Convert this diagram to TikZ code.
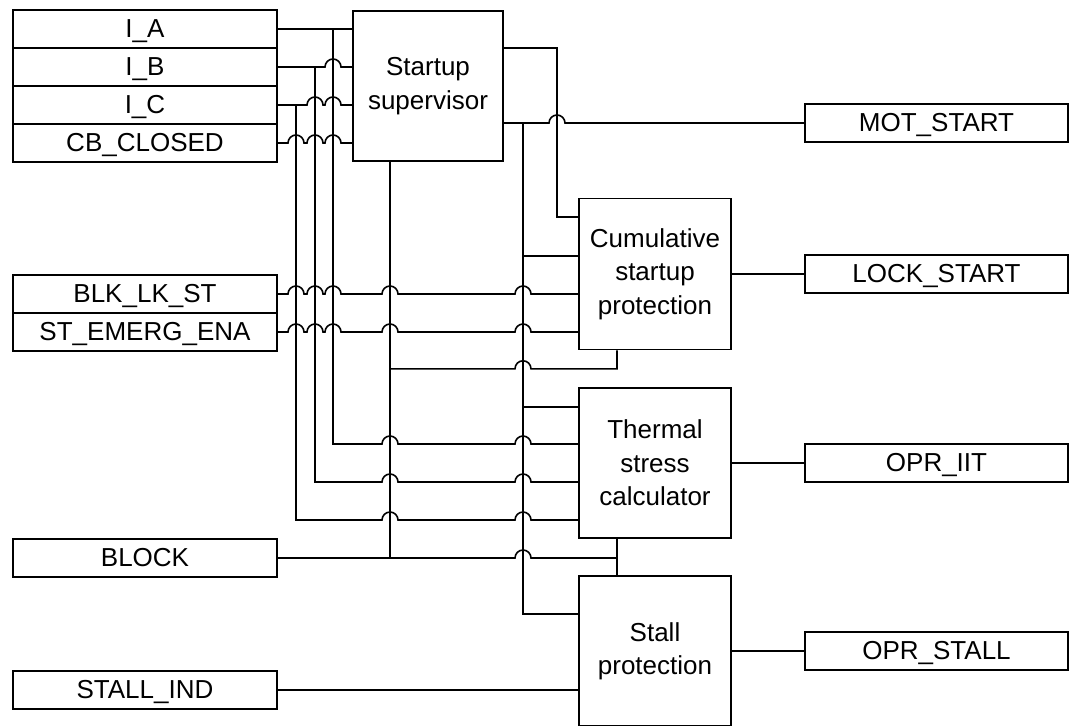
\documentclass[tikz,border=0pt]{standalone}
\usepackage{fontspec}
\setmainfont{Liberation Sans}
\usetikzlibrary{calc}
\newcommand{\hoprad}{0.16}
% a half-circle jump over a crossing wire
\newcommand{\hop}[1]{-- ($#1+(-\hoprad,0)$) arc[start angle=180, end angle=0, radius=\hoprad]}

\begin{document}
\begin{tikzpicture}[
  every node/.style={font=\fontsize{14.8}{19}\selectfont},
  sigbox/.style={draw, line width=0.9pt, inner sep=0pt,
    minimum width=5.27cm, minimum height=0.76cm,
    text height=10.6pt, text depth=0.8pt},
  fblock/.style={draw, line width=0.9pt, align=center, inner sep=0pt,
    minimum width=3.04cm, minimum height=3.0cm},
  wire/.style={line width=0.9pt},
]
\useasboundingbox (0,0) rectangle (21.38,-14.52);

% ── INPUTS ── (left column)
\node[sigbox] at ( 2.9, -0.58) (inA)   {I\_A};
\node[sigbox] at ( 2.9, -1.34) (inB)   {I\_B};
\node[sigbox] at ( 2.9, -2.10) (inC)   {I\_C};
\node[sigbox] at ( 2.9, -2.86) (cbc)   {CB\_CLOSED};
\node[sigbox] at ( 2.9, -5.88) (blk)   {BLK\_LK\_ST};
\node[sigbox] at ( 2.9, -6.64) (emg)   {ST\_EMERG\_ENA};
\node[sigbox] at ( 2.9,-11.16) (block) {BLOCK};
\node[sigbox] at ( 2.9,-13.80) (sind)  {STALL\_IND};

% ── FUNCTION BLOCKS ──
\node[fblock, minimum width=3.0cm] at ( 8.56, -1.72) (sup) {Startup\\supervisor};
\node[fblock, minimum height=3.02cm] at (13.1, -5.48) (cum) {Cumulative\\startup\\protection};
\node[fblock] at (13.1, -9.26) (ts)    {Thermal\\stress\\calculator};
\node[fblock] at (13.1,-13.02) (stall) {Stall\\protection};

% ── OUTPUTS ── (right column)
\node[sigbox] at (18.73, -2.46) (mot)    {MOT\_START};
\node[sigbox] at (18.73, -5.48) (lock)   {LOCK\_START};
\node[sigbox] at (18.73, -9.26) (iit)    {OPR\_IIT};
\node[sigbox] at (18.73,-13.02) (ostall) {OPR\_STALL};

% bus columns and taps
\coordinate (busC)   at (5.92,0);
\coordinate (busB)   at (6.30,0);
\coordinate (busA)   at (6.66,0);
\coordinate (bus2)   at (10.46,0);
\coordinate (bus1)   at (11.14,0);
\coordinate (blkbus) at ([xshift=-0.76cm]sup.south);
\coordinate (supo1)  at ([yshift=0.76cm]sup.east);
\coordinate (cumS)   at ([yshift=1.14cm]cum.west);
\coordinate (cumT)   at ([yshift=0.36cm]cum.west);
\coordinate (cumbot) at ([xshift=-0.76cm]cum.south);
\coordinate (blkcum) at ([yshift=-0.37cm]cumbot);
\coordinate (tsS)    at ([yshift=1.12cm]ts.west);
\coordinate (tsA)    at ([yshift=0.38cm]ts.west);
\coordinate (tsB)    at ([yshift=-0.38cm]ts.west);
\coordinate (tsC)    at ([yshift=-1.14cm]ts.west);
\coordinate (tsbot)  at ([xshift=-0.76cm]ts.south);
\coordinate (stS)    at ([yshift=0.74cm]stall.west);

% inputs → Startup supervisor
\draw[wire] (inA.east) -- (sup.west |- inA.east);
\draw[wire] (inB.east) \hop{(busA |- inB.east)} -- (sup.west |- inB.east);
\draw[wire] (inC.east) \hop{(busB |- inC.east)} \hop{(busA |- inC.east)} -- (sup.west |- inC.east);
\draw[wire] (cbc.east) \hop{(busC |- cbc.east)} \hop{(busB |- cbc.east)} \hop{(busA |- cbc.east)} -- (sup.west |- cbc.east);

% phase currents → Thermal stress calculator
\draw[wire] (busA |- inA.east) -- (busA |- tsA) \hop{(blkbus |- tsA)} \hop{(bus2 |- tsA)} -- (tsA);
\draw[wire] (busB |- inB.east) -- (busB |- tsB) \hop{(blkbus |- tsB)} \hop{(bus2 |- tsB)} -- (tsB);
\draw[wire] (busC |- inC.east) -- (busC |- tsC) \hop{(blkbus |- tsC)} \hop{(bus2 |- tsC)} -- (tsC);

% supervisor → MOT_START and the protections
\draw[wire] (sup.east |- mot.west) \hop{(bus1 |- mot.west)} -- (mot.west);
\draw[wire] (bus2 |- mot.west) -- (bus2 |- stS) -- (stS);
\draw[wire] (bus2 |- cumT) -- (cumT);
\draw[wire] (bus2 |- tsS) -- (tsS);
\draw[wire] (supo1) -- (bus1 |- supo1) -- (bus1 |- cumS) -- (cumS);

% BLK_LK_ST + ST_EMERG_ENA → Cumulative
\draw[wire] (blk.east) \hop{(busC |- blk.east)} \hop{(busB |- blk.east)} \hop{(busA |- blk.east)} \hop{(blkbus |- blk.east)} \hop{(bus2 |- blk.east)} -- (cum.west |- blk.east);
\draw[wire] (emg.east) \hop{(busC |- emg.east)} \hop{(busB |- emg.east)} \hop{(busA |- emg.east)} \hop{(blkbus |- emg.east)} \hop{(bus2 |- emg.east)} -- (cum.west |- emg.east);

% BLOCK → all blocks
\draw[wire] (blkbus) -- (blkbus |- block.east);
\draw[wire] (block.east) \hop{(bus2 |- block.east)} -- (tsbot |- block.east);
\draw[wire] (tsbot) -- (tsbot |- stall.north);
\draw[wire] (blkbus |- blkcum) \hop{(bus2 |- blkcum)} -- (blkcum) -- (cumbot);

% STALL_IND → Stall protection
\draw[wire] (sind.east) -- (stall.west |- sind.east);

% outputs
\draw[wire] (cum.east)   -- (lock.west);
\draw[wire] (ts.east)    -- (iit.west);
\draw[wire] (stall.east) -- (ostall.west);

\end{tikzpicture}
\end{document}
